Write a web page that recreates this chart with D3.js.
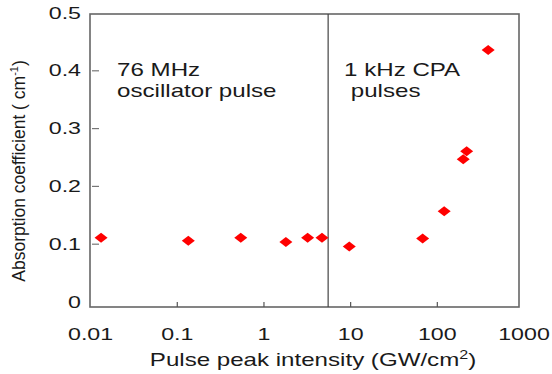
<!DOCTYPE html>
<html>
<head>
<meta charset="utf-8">
<script src="https://cdn.jsdelivr.net/npm/d3@7"></script>
<style>
  body { margin: 0; background: #fff; }
  svg text { font-family: "Liberation Sans", Arial, sans-serif; fill: #1a1a1a; }
</style>
</head>
<body>
<svg id="chart"></svg>
<script>
// data
var intensity = [0.0132, 0.134, 0.54, 1.79, 3.19, 4.67, 9.64, 67.7, 120, 199, 218, 386];
var absorption = [0.111, 0.106, 0.111, 0.104, 0.111, 0.111, 0.096, 0.110, 0.157, 0.247, 0.261, 0.436];
var xTicks = [0.01, 0.1, 1, 10, 100, 1000];
var xTickLabels = ['0.01', '0.1', '1', '10', '100', '1000'];
var yTicks = [0, 0.1, 0.2, 0.3, 0.4, 0.5];
var yTickLabels = ['0', '0.1', '0.2', '0.3', '0.4', '0.5'];
var boundary = 5.5; // oscillator / CPA divider
var notes = [
  { lines: ['76 MHz', 'oscillator pulse'], x: 0.0202 },
  { lines: ['1 kHz CPA', ' pulses'], x: 8.4 }
];

var canvasWidth = 552;
var canvasHeight = 374;
var stretch = 1.34; // the original picture is stretched sideways
var tickStretch = 1.45;

var svg = d3.select('#chart')
  .attr('width', canvasWidth)
  .attr('height', canvasHeight);

var plot = { left: 90, top: 14, right: 519, bottom: 307 };

var xScale = d3.scaleLog().domain([0.01, 1000]).range([90.6, 524]);
var yScale = d3.scaleLinear().domain([0, 0.5]).range([302, 13]);

// frame
svg.append('rect')
  .attr('x', plot.left)
  .attr('y', plot.top)
  .attr('width', plot.right - plot.left)
  .attr('height', plot.bottom - plot.top)
  .attr('fill', 'none')
  .attr('stroke', '#666')
  .attr('stroke-width', 1.6);

// inner ticks
svg.selectAll('.ytick').data(yTicks.slice(1, 5))
  .enter().append('line')
  .attr('x1', plot.left + 2).attr('x2', plot.left + 9)
  .attr('y1', function(d) { return yScale(d); })
  .attr('y2', function(d) { return yScale(d); })
  .attr('stroke', '#777').attr('stroke-width', 1.2);

svg.selectAll('.xtick').data(xTicks.slice(1, 5))
  .enter().append('line')
  .attr('x1', function(d) { return xScale(d); })
  .attr('x2', function(d) { return xScale(d); })
  .attr('y1', plot.bottom).attr('y2', plot.bottom - 5)
  .attr('stroke', '#555').attr('stroke-width', 1.2);

// tick labels
svg.selectAll('.ylab').data(yTicks)
  .enter().append('text')
  .attr('transform', function(d) { return 'translate(81,' + (yScale(d) + 5.5) + ') scale(' + tickStretch + ',1)'; })
  .attr('text-anchor', 'end')
  .attr('font-size', 16)
  .text(function(d, i) { return yTickLabels[i]; });

svg.selectAll('.xlab').data(xTicks)
  .enter().append('text')
  .attr('transform', function(d) { return 'translate(' + xScale(d) + ',340) scale(' + tickStretch + ',1)'; })
  .attr('text-anchor', 'middle')
  .attr('font-size', 16)
  .text(function(d, i) { return xTickLabels[i]; });

// divider between the two sources
svg.append('line')
  .attr('x1', xScale(boundary)).attr('x2', xScale(boundary))
  .attr('y1', plot.top).attr('y2', plot.bottom)
  .attr('stroke', '#444').attr('stroke-width', 1.2);

// annotations
notes.forEach(function(n) {
  var t = svg.append('text')
    .attr('transform', 'translate(' + xScale(n.x) + ',76) scale(' + stretch + ',1)')
    .attr('font-size', 18)
    .attr('xml:space', 'preserve');
  n.lines.forEach(function(line, i) {
    t.append('tspan').attr('x', 0).attr('dy', i === 0 ? 0 : 21).text(line);
  });
});

// points
var diamond = 'M0,-5L6.5,0L0,5L-6.5,0Z';
svg.selectAll('.pt').data(intensity)
  .enter().append('path')
  .attr('d', diamond)
  .attr('transform', function(d, i) { return 'translate(' + xScale(d) + ',' + yScale(absorption[i]) + ')'; })
  .attr('fill', '#ff0000');

// axis titles
var xt = svg.append('text')
  .attr('transform', 'translate(313,366) scale(' + stretch + ',1)')
  .attr('text-anchor', 'middle')
  .attr('font-size', 18);
xt.append('tspan').text('Pulse peak intensity (GW/cm');
xt.append('tspan').attr('font-size', 12).attr('dy', -7).text('2');
xt.append('tspan').attr('dy', 7).text(')');

var yt = svg.append('text')
  .attr('transform', 'translate(25,171) rotate(-90)')
  .attr('text-anchor', 'middle')
  .attr('font-size', 17.5);
yt.append('tspan').text('Absorption coefficient ( cm');
yt.append('tspan').attr('font-size', 11).attr('dy', -7).text('-1');
yt.append('tspan').attr('dy', 7).text(')');
</script>
</body>
</html>
